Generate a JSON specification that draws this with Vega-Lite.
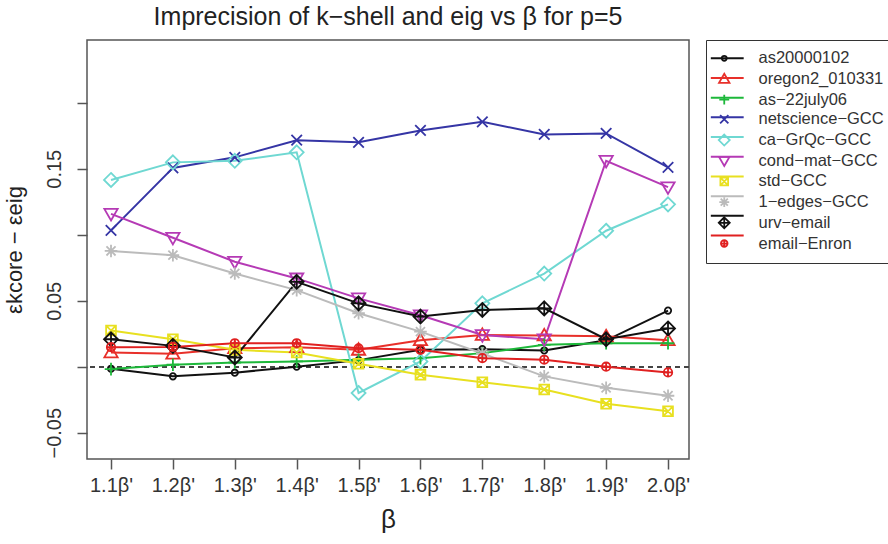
{
  "$schema": "https://vega.github.io/schema/vega-lite/v6.json",
  "autosize": {"type": "none"},
  "padding": {"left": 87, "top": 40, "right": 199, "bottom": 85},
  "width": 602,
  "height": 419,
  "background": "white",
  "config": {
    "font": "Liberation Sans",
    "view": {"stroke": "#555", "strokeWidth": 1.5}
  },
  "title": {"text": "Imprecision of k−shell and eig vs β for p=5", "fontSize": 25, "fontWeight": "normal", "color": "#222", "offset": 10, "anchor": "middle"},
  "data": {"values": [
    {"beta": 1.1, "series": "as20000102", "value": -0.0015},
    {"beta": 1.2, "series": "as20000102", "value": -0.0073},
    {"beta": 1.3, "series": "as20000102", "value": -0.0045},
    {"beta": 1.4, "series": "as20000102", "value": 0.0},
    {"beta": 1.5, "series": "as20000102", "value": 0.005},
    {"beta": 1.6, "series": "as20000102", "value": 0.0128},
    {"beta": 1.7, "series": "as20000102", "value": 0.0133},
    {"beta": 1.8, "series": "as20000102", "value": 0.0123},
    {"beta": 1.9, "series": "as20000102", "value": 0.020},
    {"beta": 2.0, "series": "as20000102", "value": 0.0425},
    {"beta": 1.1, "series": "oregon2_010331", "value": 0.0108},
    {"beta": 1.2, "series": "oregon2_010331", "value": 0.0098},
    {"beta": 1.3, "series": "oregon2_010331", "value": 0.014},
    {"beta": 1.4, "series": "oregon2_010331", "value": 0.0148},
    {"beta": 1.5, "series": "oregon2_010331", "value": 0.0128},
    {"beta": 1.6, "series": "oregon2_010331", "value": 0.020},
    {"beta": 1.7, "series": "oregon2_010331", "value": 0.024},
    {"beta": 1.8, "series": "oregon2_010331", "value": 0.0236},
    {"beta": 1.9, "series": "oregon2_010331", "value": 0.023},
    {"beta": 2.0, "series": "oregon2_010331", "value": 0.020},
    {"beta": 1.1, "series": "as−22july06", "value": -0.0018},
    {"beta": 1.2, "series": "as−22july06", "value": 0.0015},
    {"beta": 1.3, "series": "as−22july06", "value": 0.0032},
    {"beta": 1.4, "series": "as−22july06", "value": 0.004},
    {"beta": 1.5, "series": "as−22july06", "value": 0.0053},
    {"beta": 1.6, "series": "as−22july06", "value": 0.0065},
    {"beta": 1.7, "series": "as−22july06", "value": 0.0103},
    {"beta": 1.8, "series": "as−22july06", "value": 0.0166},
    {"beta": 1.9, "series": "as−22july06", "value": 0.0178},
    {"beta": 2.0, "series": "as−22july06", "value": 0.0178},
    {"beta": 1.1, "series": "netscience−GCC", "value": 0.1033},
    {"beta": 1.2, "series": "netscience−GCC", "value": 0.1506},
    {"beta": 1.3, "series": "netscience−GCC", "value": 0.1586},
    {"beta": 1.4, "series": "netscience−GCC", "value": 0.1716},
    {"beta": 1.5, "series": "netscience−GCC", "value": 0.170},
    {"beta": 1.6, "series": "netscience−GCC", "value": 0.179},
    {"beta": 1.7, "series": "netscience−GCC", "value": 0.1855},
    {"beta": 1.8, "series": "netscience−GCC", "value": 0.176},
    {"beta": 1.9, "series": "netscience−GCC", "value": 0.1767},
    {"beta": 2.0, "series": "netscience−GCC", "value": 0.151},
    {"beta": 1.1, "series": "ca−GrQc−GCC", "value": 0.1415},
    {"beta": 1.2, "series": "ca−GrQc−GCC", "value": 0.1548},
    {"beta": 1.3, "series": "ca−GrQc−GCC", "value": 0.156},
    {"beta": 1.4, "series": "ca−GrQc−GCC", "value": 0.1624},
    {"beta": 1.5, "series": "ca−GrQc−GCC", "value": -0.0199},
    {"beta": 1.6, "series": "ca−GrQc−GCC", "value": 0.004},
    {"beta": 1.7, "series": "ca−GrQc−GCC", "value": 0.048},
    {"beta": 1.8, "series": "ca−GrQc−GCC", "value": 0.0706},
    {"beta": 1.9, "series": "ca−GrQc−GCC", "value": 0.103},
    {"beta": 2.0, "series": "ca−GrQc−GCC", "value": 0.123},
    {"beta": 1.1, "series": "cond−mat−GCC", "value": 0.1158},
    {"beta": 1.2, "series": "cond−mat−GCC", "value": 0.0977},
    {"beta": 1.3, "series": "cond−mat−GCC", "value": 0.0795},
    {"beta": 1.4, "series": "cond−mat−GCC", "value": 0.0669},
    {"beta": 1.5, "series": "cond−mat−GCC", "value": 0.0518},
    {"beta": 1.6, "series": "cond−mat−GCC", "value": 0.039},
    {"beta": 1.7, "series": "cond−mat−GCC", "value": 0.024},
    {"beta": 1.8, "series": "cond−mat−GCC", "value": 0.0208},
    {"beta": 1.9, "series": "cond−mat−GCC", "value": 0.156},
    {"beta": 2.0, "series": "cond−mat−GCC", "value": 0.136},
    {"beta": 1.1, "series": "std−GCC", "value": 0.0274},
    {"beta": 1.2, "series": "std−GCC", "value": 0.0208},
    {"beta": 1.3, "series": "std−GCC", "value": 0.0128},
    {"beta": 1.4, "series": "std−GCC", "value": 0.0108},
    {"beta": 1.5, "series": "std−GCC", "value": 0.0023},
    {"beta": 1.6, "series": "std−GCC", "value": -0.006},
    {"beta": 1.7, "series": "std−GCC", "value": -0.0118},
    {"beta": 1.8, "series": "std−GCC", "value": -0.0173},
    {"beta": 1.9, "series": "std−GCC", "value": -0.028},
    {"beta": 2.0, "series": "std−GCC", "value": -0.0337},
    {"beta": 1.1, "series": "1−edges−GCC", "value": 0.0877},
    {"beta": 1.2, "series": "1−edges−GCC", "value": 0.0845},
    {"beta": 1.3, "series": "1−edges−GCC", "value": 0.0706},
    {"beta": 1.4, "series": "1−edges−GCC", "value": 0.058},
    {"beta": 1.5, "series": "1−edges−GCC", "value": 0.0405},
    {"beta": 1.6, "series": "1−edges−GCC", "value": 0.0266},
    {"beta": 1.7, "series": "1−edges−GCC", "value": 0.01},
    {"beta": 1.8, "series": "1−edges−GCC", "value": -0.0073},
    {"beta": 1.9, "series": "1−edges−GCC", "value": -0.016},
    {"beta": 2.0, "series": "1−edges−GCC", "value": -0.022},
    {"beta": 1.1, "series": "urv−email", "value": 0.0208},
    {"beta": 1.2, "series": "urv−email", "value": 0.0158},
    {"beta": 1.3, "series": "urv−email", "value": 0.007},
    {"beta": 1.4, "series": "urv−email", "value": 0.0643},
    {"beta": 1.5, "series": "urv−email", "value": 0.048},
    {"beta": 1.6, "series": "urv−email", "value": 0.038},
    {"beta": 1.7, "series": "urv−email", "value": 0.043},
    {"beta": 1.8, "series": "urv−email", "value": 0.0442},
    {"beta": 1.9, "series": "urv−email", "value": 0.0208},
    {"beta": 2.0, "series": "urv−email", "value": 0.029},
    {"beta": 1.1, "series": "email−Enron", "value": 0.0148},
    {"beta": 1.2, "series": "email−Enron", "value": 0.015},
    {"beta": 1.3, "series": "email−Enron", "value": 0.0178},
    {"beta": 1.4, "series": "email−Enron", "value": 0.0178},
    {"beta": 1.5, "series": "email−Enron", "value": 0.014},
    {"beta": 1.6, "series": "email−Enron", "value": 0.0128},
    {"beta": 1.7, "series": "email−Enron", "value": 0.0065},
    {"beta": 1.8, "series": "email−Enron", "value": 0.0053},
    {"beta": 1.9, "series": "email−Enron", "value": 0.0},
    {"beta": 2.0, "series": "email−Enron", "value": -0.0043}
  ]},
  "encoding": {
    "x": {
      "field": "beta", "type": "quantitative",
      "scale": {"domain": [1.0612, 2.0339], "nice": false, "zero": false},
      "axis": {
        "values": [1.1, 1.2, 1.3, 1.4, 1.5, 1.6, 1.7, 1.8, 1.9, 2.0],
        "labelExpr": "format(datum.value, '.1f') + \"β'\"",
        "title": "β", "titleFontSize": 26, "titleFontWeight": "normal", "titleColor": "#222", "titlePadding": 11,
        "labelFontSize": 20, "labelColor": "#333", "labelPadding": 6, "labelOverlap": false, "labelFlush": false,
        "tickSize": 10, "tickColor": "#555", "tickWidth": 1.5, "domain": false, "grid": false
      }
    },
    "y": {
      "field": "value", "type": "quantitative",
      "scale": {"domain": [-0.0699, 0.2475], "nice": false, "zero": false},
      "axis": {
        "values": [-0.05, 0, 0.05, 0.1, 0.15, 0.2],
        "labelExpr": "(abs(datum.value - 0.15) < 1e-6 || abs(abs(datum.value) - 0.05) < 1e-6) ? datum.label : ''",
        "title": "εkcore − εeig", "titleFontSize": 22, "titleFontWeight": "normal", "titleColor": "#222", "titlePadding": 18,
        "labelFontSize": 20, "labelColor": "#333", "labelAngle": 270, "labelAlign": "center", "labelBaseline": "bottom", "labelPadding": 13, "labelOverlap": false,
        "tickSize": 10, "tickColor": "#555", "tickWidth": 1.5, "domain": false, "grid": false
      }
    }
  },
  "layer": [
    {
      "mark": {"type": "rule", "strokeDash": [5, 4], "color": "#444", "strokeWidth": 1.2},
      "encoding": {"y": {"datum": 0}, "x": null}
    },
    {
      "mark": {"type": "line", "strokeWidth": 2},
      "encoding": {
        "stroke": {
          "field": "series", "type": "nominal",
          "scale": {
            "domain": ["email−Enron", "urv−email", "1−edges−GCC", "std−GCC", "cond−mat−GCC", "ca−GrQc−GCC", "netscience−GCC", "as−22july06", "oregon2_010331", "as20000102"],
            "range": ["#e02020", "#111111", "#bbbbbb", "#e8e020", "#b53ab5", "#6fd8d2", "#3535a5", "#1db83a", "#e8302a", "#111111"]
          },
          "legend": {
            "title": null, "orient": "right", "offset": 19.75,
            "values": ["as20000102", "oregon2_010331", "as−22july06", "netscience−GCC", "ca−GrQc−GCC", "cond−mat−GCC", "std−GCC", "1−edges−GCC", "urv−email", "email−Enron"],
            "padding": 10, "labelFontSize": 16.5, "labelExpr": "' '", "labelColor": "transparent", "labelOffset": 26, "rowPadding": 2.7,
            "symbolType": "M-6,0L6,0", "symbolSize": 30, "symbolStrokeWidth": 2
          }
        },
        "detail": {"field": "series"}
      }
    },
    {
      "mark": {"type": "point", "filled": false, "size": 196, "strokeWidth": 1.8, "opacity": 1},
      "encoding": {
        "color": {
          "field": "series", "type": "nominal",
          "scale": {
            "domain": ["as20000102", "oregon2_010331", "as−22july06", "netscience−GCC", "ca−GrQc−GCC", "cond−mat−GCC", "std−GCC", "1−edges−GCC", "urv−email", "email−Enron"],
            "range": ["#111111", "#e8302a", "#1db83a", "#3535a5", "#6fd8d2", "#b53ab5", "#e8e020", "#bbbbbb", "#111111", "#e02020"]
          },
          "legend": {
            "title": null, "orient": "none", "legendX": 619, "legendY": 0,
            "padding": 10, "strokeColor": "#333",
            "labelFontSize": 16.5, "labelColor": "#333", "labelOffset": 26, "rowPadding": 2.7,
            "symbolSize": 121, "symbolStrokeWidth": 1.8
          }
        },
        "shape": {
          "field": "series", "type": "nominal",
          "scale": {
            "domain": ["as20000102", "oregon2_010331", "as−22july06", "netscience−GCC", "ca−GrQc−GCC", "cond−mat−GCC", "std−GCC", "1−edges−GCC", "urv−email", "email−Enron"],
            "range": [
              "M-0.45,0A0.45,0.45 0 1,0 0.45,0A0.45,0.45 0 1,0 -0.45,0Z",
              "M0,-0.95L0.95,0.7L-0.95,0.7Z",
              "M-0.9,0L0.9,0M0,-0.9L0,0.9",
              "M-0.75,-0.75L0.75,0.75M-0.75,0.75L0.75,-0.75",
              "M0,-1L1,0L0,1L-1,0Z",
              "M0,0.95L0.95,-0.7L-0.95,-0.7Z",
              "M-0.7,-0.7L0.7,-0.7L0.7,0.7L-0.7,0.7ZM-0.7,-0.7L0.7,0.7M-0.7,0.7L0.7,-0.7",
              "M-0.9,0L0.9,0M0,-0.9L0,0.9M-0.65,-0.65L0.65,0.65M-0.65,0.65L0.65,-0.65",
              "M0,-1L1,0L0,1L-1,0ZM-1,0L1,0M0,-1L0,1",
              "M-0.6,0A0.6,0.6 0 1,0 0.6,0A0.6,0.6 0 1,0 -0.6,0ZM-0.6,0L0.6,0M0,-0.6L0,0.6"
            ]
          },
          "legend": {
            "title": null, "orient": "none", "legendX": 619, "legendY": 0,
            "padding": 10, "strokeColor": "#333",
            "labelFontSize": 16.5, "labelColor": "#333", "labelOffset": 26, "rowPadding": 2.7,
            "symbolSize": 121, "symbolStrokeWidth": 1.8
          }
        }
      }
    }
  ]
}
